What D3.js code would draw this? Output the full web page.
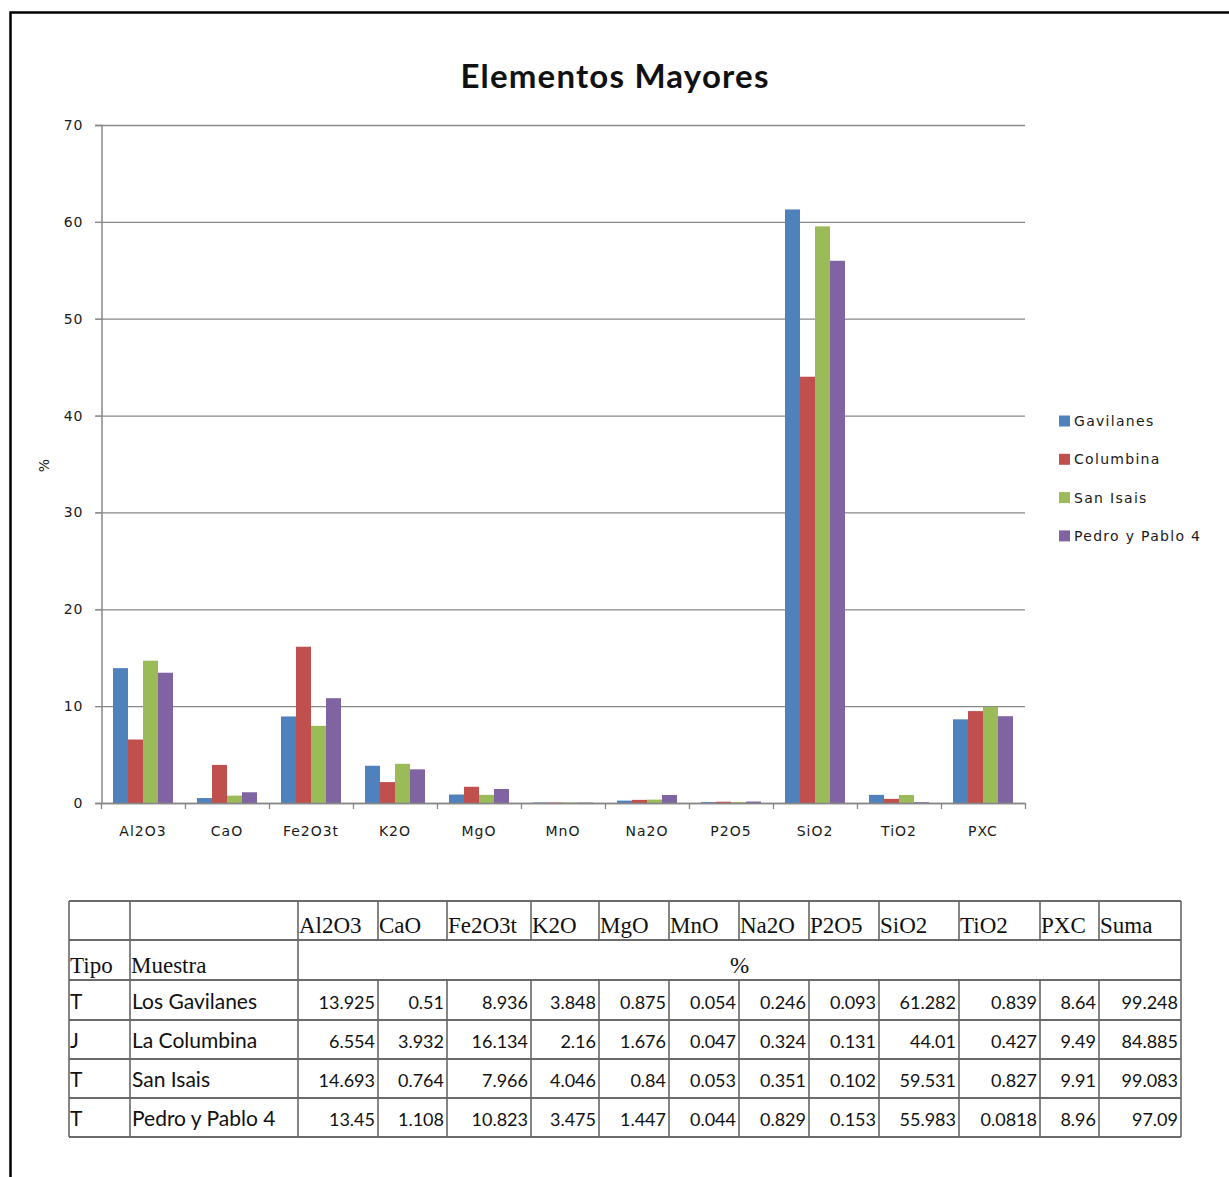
<!DOCTYPE html>
<html>
<head>
<meta charset="utf-8">
<script src="https://cdn.jsdelivr.net/npm/d3@7"></script>
<style>
  body { margin: 0; background: #fff; }
  .tick-label { font-family: 'DejaVu Sans', sans-serif; font-size: 14px; fill: #1a1a1a; letter-spacing: 1px; }
  .title { font-family: Lato, sans-serif; font-weight: bold; font-size: 33px; fill: #111; }
  .serif { font-family: 'Liberation Serif', 'Times New Roman', serif; font-size: 23px; fill: #111; }
  .cell { font-family: Lato, sans-serif; font-size: 21px; fill: #111; }
  .num { font-family: Lato, sans-serif; font-size: 18px; fill: #111; }
</style>
</head>
<body>
<div id="chart"></div>
<script>
var categories = ['Al2O3', 'CaO', 'Fe2O3t', 'K2O', 'MgO', 'MnO', 'Na2O', 'P2O5', 'SiO2', 'TiO2', 'PXC'];
var seriesNames = ['Gavilanes', 'Columbina', 'San Isais', 'Pedro y Pablo 4'];
var colors = ['#4F81BD', '#C0504D', '#9BBB59', '#8064A2'];

var gavilanes = [13.925, 0.51, 8.936, 3.848, 0.875, 0.054, 0.246, 0.093, 61.282, 0.839, 8.64];
var columbina = [6.554, 3.932, 16.134, 2.16, 1.676, 0.047, 0.324, 0.131, 44.01, 0.427, 9.49];
var sanIsais = [14.693, 0.764, 7.966, 4.046, 0.84, 0.053, 0.351, 0.102, 59.531, 0.827, 9.91];
var pedroPablo = [13.45, 1.108, 10.823, 3.475, 1.447, 0.044, 0.829, 0.153, 55.983, 0.0818, 8.96];
var yTicks = [0, 10, 20, 30, 40, 50, 60, 70];

// table only
var tipos = ['T', 'J', 'T', 'T'];
var muestras = ['Los Gavilanes', 'La Columbina', 'San Isais', 'Pedro y Pablo 4'];
var sumas = [99.248, 84.885, 99.083, 97.09];

var allValues = [gavilanes, columbina, sanIsais, pedroPablo];

var width = 1229;
var height = 1177;
var plotLeft = 101, plotRight = 1025, plotTop = 125, plotBottom = 803;

var svg = d3.select('#chart').append('svg')
  .attr('width', width)
  .attr('height', height);

// frame
svg.append('rect')
  .attr('x', 10.5)
  .attr('y', 12.5)
  .attr('width', width + 20)
  .attr('height', height + 20)
  .attr('fill', 'none')
  .attr('stroke', '#000')
  .attr('stroke-width', 2.5);

svg.append('text')
  .attr('class', 'title')
  .attr('x', 615)
  .attr('y', 88)
  .attr('text-anchor', 'middle')
  .style('letter-spacing', '1.2px')
  .text('Elementos Mayores');

// scales
var x0 = d3.scaleBand()
  .domain(categories)
  .range([plotLeft, plotRight]);

var x1 = d3.scaleBand()
  .domain(seriesNames)
  .range([0, x0.bandwidth()])
  .paddingOuter(0.8);

var y = d3.scaleLinear()
  .domain([0, 70])
  .range([plotBottom, plotTop]);

// gridlines
svg.append('g')
  .selectAll('line')
  .data(yTicks)
  .enter()
  .append('line')
  .attr('x1', plotLeft - 6)
  .attr('x2', plotRight)
  .attr('y1', function(d) { return y(d) + 0.5; })
  .attr('y2', function(d) { return y(d) + 0.5; })
  .attr('stroke', '#888')
  .attr('stroke-width', 1.3);

// y axis
var yAxis = d3.axisLeft(y).tickValues(yTicks).tickSize(6).tickPadding(12);
var gy = svg.append('g')
  .attr('transform', 'translate(' + (plotLeft + 0.5) + ',0)')
  .call(yAxis);
gy.select('.domain').attr('stroke', '#888').attr('stroke-width', 1.5);
gy.selectAll('.tick line').attr('stroke', '#888');
gy.selectAll('.tick text')
  .attr('class', 'tick-label')
  .attr('fill', null);
gy.attr('font-family', null).attr('font-size', null);

svg.append('text')
  .attr('class', 'tick-label')
  .attr('transform', 'translate(49,465) rotate(-90)')
  .attr('text-anchor', 'middle')
  .text('%');

// bars
var groups = svg.append('g')
  .selectAll('g')
  .data(categories)
  .enter()
  .append('g')
  .attr('transform', function(d) { return 'translate(' + x0(d) + ',0)'; });

groups.selectAll('rect')
  .data(function(d, i) {
    return seriesNames.map(function(s, j) {
      return { series: s, value: allValues[j][i], color: colors[j] };
    });
  })
  .enter()
  .append('rect')
  .attr('x', function(d) { return x1(d.series); })
  .attr('width', x1.bandwidth())
  .attr('y', function(d) { return y(d.value); })
  .attr('height', function(d) { return Math.max(1.5, plotBottom - y(d.value)); })
  .attr('fill', function(d) { return d.color; });

// x axis
svg.append('line')
  .attr('x1', plotLeft)
  .attr('x2', plotRight)
  .attr('y1', plotBottom + 0.5)
  .attr('y2', plotBottom + 0.5)
  .attr('stroke', '#888')
  .attr('stroke-width', 1.5);

var bounds = categories.map(function(d) { return x0(d); }).concat([plotRight]);
svg.append('g')
  .selectAll('line')
  .data(bounds)
  .enter()
  .append('line')
  .attr('x1', function(d) { return d + 0.5; })
  .attr('x2', function(d) { return d + 0.5; })
  .attr('y1', plotBottom)
  .attr('y2', plotBottom + 6)
  .attr('stroke', '#888')
  .attr('stroke-width', 1.3);

svg.append('g')
  .selectAll('text')
  .data(categories)
  .enter()
  .append('text')
  .attr('class', 'tick-label')
  .attr('x', function(d) { return x0(d) + x0.bandwidth() / 2; })
  .attr('y', 836)
  .attr('text-anchor', 'middle')
  .text(function(d) { return d; });

// legend
var legend = svg.append('g')
  .selectAll('g')
  .data(seriesNames)
  .enter()
  .append('g')
  .attr('transform', function(d, i) { return 'translate(1059,' + (421 + i * 38.3) + ')'; });

legend.append('rect')
  .attr('x', 0)
  .attr('y', -5.5)
  .attr('width', 11)
  .attr('height', 11)
  .attr('fill', function(d, i) { return colors[i]; });

legend.append('text')
  .attr('class', 'tick-label')
  .attr('x', 15)
  .attr('y', 5)
  .style('letter-spacing', '1.3px')
  .text(function(d) { return d; });

// table
var cols = [69, 130, 298, 378, 447, 531, 599, 669, 739, 809, 879, 959, 1040, 1099, 1181];
var rows = [901, 940, 980, 1020, 1059, 1098, 1137];
var tbl = svg.append('g');
var lineColor = '#3a3a3a';

rows.forEach(function(r) {
  tbl.append('line')
    .attr('x1', cols[0]).attr('x2', cols[cols.length - 1])
    .attr('y1', r).attr('y2', r)
    .attr('stroke', lineColor).attr('stroke-width', 1.6);
});

cols.forEach(function(c, i) {
  // header row
  tbl.append('line')
    .attr('x1', c).attr('x2', c)
    .attr('y1', rows[0]).attr('y2', rows[1])
    .attr('stroke', '#666').attr('stroke-width', 1.6);
  // "%" row is merged
  if (i <= 2 || i === cols.length - 1) {
    tbl.append('line')
      .attr('x1', c).attr('x2', c)
      .attr('y1', rows[1]).attr('y2', rows[2])
      .attr('stroke', '#666').attr('stroke-width', 1.6);
  }
  tbl.append('line')
    .attr('x1', c).attr('x2', c)
    .attr('y1', rows[2]).attr('y2', rows[rows.length - 1])
    .attr('stroke', '#666').attr('stroke-width', 1.6);
});

var headers = categories.concat(['Suma']);
headers.forEach(function(h, i) {
  tbl.append('text')
    .attr('class', 'serif')
    .attr('x', cols[i + 2] + 1)
    .attr('y', rows[1] - 7)
    .text(h);
});

tbl.append('text').attr('class', 'serif').attr('x', cols[0] + 1).attr('y', rows[2] - 7).text('Tipo');
tbl.append('text').attr('class', 'serif').attr('x', cols[1] + 1).attr('y', rows[2] - 7).text('Muestra');
tbl.append('text').attr('class', 'serif')
  .attr('x', (cols[2] + cols[cols.length - 1]) / 2)
  .attr('y', rows[2] - 7)
  .attr('text-anchor', 'middle')
  .text('%');

muestras.forEach(function(m, r) {
  var base = rows[r + 3] - 11;
  tbl.append('text').attr('class', 'cell').attr('x', cols[0] + 1).attr('y', base).text(tipos[r]);
  tbl.append('text').attr('class', 'cell').attr('x', cols[1] + 2).attr('y', base).text(m);
  var vals = allValues[r].concat([sumas[r]]);
  vals.forEach(function(v, i) {
    tbl.append('text')
      .attr('class', 'num')
      .attr('x', cols[i + 3] - 3)
      .attr('y', base)
      .attr('text-anchor', 'end')
      .text(String(v));
  });
});
</script>
</body>
</html>
